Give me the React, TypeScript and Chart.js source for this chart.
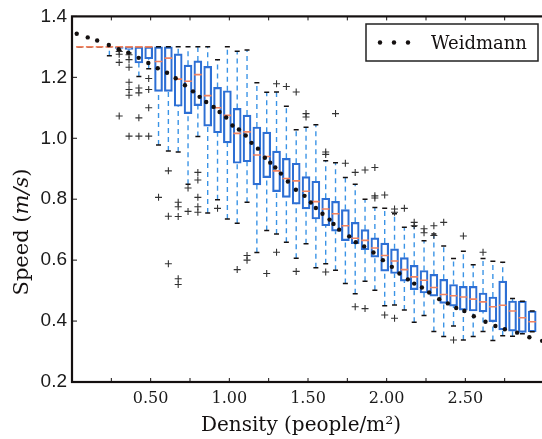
import React, { useEffect, useRef } from "react";
import { Chart, registerables } from "chart.js";
Chart.register(...registerables);

// ---- data ----
const boxDensity = [0.05, 0.1125, 0.175, 0.2375, 0.3, 0.3625, 0.425, 0.4875, 0.55, 0.6125, 0.675, 0.7375, 0.8, 0.8625, 0.925, 0.9875, 1.05, 1.1125, 1.175, 1.2375, 1.3, 1.3625, 1.425, 1.4875, 1.55, 1.6125, 1.675, 1.7375, 1.8, 1.8625, 1.925, 1.9875, 2.05, 2.1125, 2.175, 2.2375, 2.3, 2.3625, 2.425, 2.4875, 2.55, 2.6125, 2.675, 2.7375, 2.8, 2.8625, 2.925];
const whiskerLow = [1.3, 1.3, 1.3, 1.271, 1.288, 1.28, 1.203, 1.228, 0.978, 0.958, 0.955, 0.849, 1.006, 0.755, 0.798, 0.735, 0.721, 0.79, 0.625, 0.697, 0.686, 0.659, 0.606, 0.654, 0.575, 0.588, 0.567, 0.523, 0.49, 0.531, 0.501, 0.45, 0.453, 0.436, 0.396, 0.418, 0.366, 0.349, 0.384, 0.338, 0.349, 0.366, 0.336, 0.352, 0.35, 0.358, 0.365];
const quartile1 = [1.3, 1.3, 1.3, 1.3, 1.295, 1.292, 1.247, 1.261, 1.154, 1.154, 1.105, 1.081, 1.107, 1.04, 1.018, 0.985, 0.918, 0.923, 0.847, 0.871, 0.825, 0.806, 0.784, 0.768, 0.735, 0.713, 0.695, 0.664, 0.654, 0.634, 0.61, 0.564, 0.556, 0.531, 0.503, 0.492, 0.482, 0.458, 0.449, 0.436, 0.433, 0.43, 0.398, 0.371, 0.367, 0.363, 0.365];
const medianSpeed = [1.3, 1.3, 1.3, 1.3, 1.3, 1.3, 1.3, 1.3, 1.252, 1.263, 1.194, 1.187, 1.209, 1.14, 1.1, 1.075, 1.016, 1.021, 0.945, 0.94, 0.893, 0.868, 0.86, 0.826, 0.792, 0.768, 0.752, 0.713, 0.672, 0.665, 0.64, 0.615, 0.597, 0.569, 0.545, 0.534, 0.51, 0.487, 0.483, 0.479, 0.472, 0.463, 0.447, 0.452, 0.433, 0.411, 0.398];
const quartile3 = [1.3, 1.3, 1.3, 1.3, 1.3, 1.3, 1.3, 1.3, 1.3, 1.3, 1.277, 1.24, 1.254, 1.236, 1.167, 1.156, 1.098, 1.076, 1.037, 1.02, 0.958, 0.934, 0.918, 0.874, 0.859, 0.803, 0.793, 0.766, 0.724, 0.7, 0.673, 0.656, 0.637, 0.608, 0.583, 0.566, 0.553, 0.537, 0.52, 0.514, 0.514, 0.492, 0.479, 0.531, 0.466, 0.465, 0.433];
const whiskerHigh = [1.3, 1.3, 1.3, 1.3, 1.3, 1.3, 1.3, 1.3, 1.3, 1.3, 1.3, 1.3, 1.3, 1.3, 1.258, 1.3, 1.286, 1.29, 1.182, 1.151, 1.152, 1.105, 1.028, 1.036, 1.044, 0.926, 0.92, 0.871, 0.849, 0.8, 0.773, 0.77, 0.752, 0.708, 0.711, 0.664, 0.686, 0.646, 0.605, 0.629, 0.585, 0.605, 0.596, 0.593, 0.474, 0.465, 0.433];

const outlierBox = [4, 4, 4, 4, 5, 5, 5, 5, 5, 5, 5, 6, 6, 6, 6, 7, 7, 7, 7, 8, 9, 9, 9, 10, 10, 10, 10, 10, 11, 11, 12, 12, 12, 12, 12, 14, 16, 17, 17, 19, 20, 20, 21, 22, 22, 23, 23, 25, 25, 25, 26, 27, 28, 28, 29, 29, 30, 30, 30, 31, 31, 32, 32, 32, 33, 34, 34, 35, 35, 36, 36, 37, 38, 39, 41];
const outlierSpeed = [1.285, 1.276, 1.249, 1.073, 1.274, 1.258, 1.233, 1.184, 1.16, 1.141, 1.007, 1.165, 1.149, 1.067, 1.007, 1.196, 1.16, 1.1, 1.007, 0.806, 0.893, 0.744, 0.588, 0.79, 0.775, 0.743, 0.539, 0.52, 0.837, 0.76, 0.888, 0.863, 0.806, 0.775, 0.757, 0.77, 0.569, 0.615, 0.6, 0.556, 1.179, 0.626, 1.17, 1.152, 0.563, 1.081, 1.07, 0.955, 0.947, 0.561, 1.081, 0.918, 0.888, 0.447, 0.896, 0.441, 0.904, 0.811, 0.804, 0.814, 0.42, 0.768, 0.757, 0.409, 0.77, 0.724, 0.713, 0.703, 0.69, 0.713, 0.681, 0.724, 0.338, 0.679, 0.626];

const weidmannDensity = [0.03, 0.1, 0.16, 0.234, 0.297, 0.358, 0.424, 0.485, 0.545, 0.604, 0.659, 0.718, 0.769, 0.811, 0.853, 0.9, 0.938, 0.98, 1.02, 1.061, 1.104, 1.141, 1.182, 1.226, 1.26, 1.292, 1.328, 1.372, 1.423, 1.478, 1.518, 1.55, 1.592, 1.637, 1.662, 1.698, 1.762, 1.804, 1.857, 1.916, 1.976, 2.033, 2.081, 2.135, 2.175, 2.224, 2.27, 2.334, 2.389, 2.442, 2.494, 2.554, 2.628, 2.691, 2.751, 2.829, 2.907, 2.988];
const weidmannSpeed = [1.343, 1.331, 1.321, 1.306, 1.292, 1.281, 1.264, 1.247, 1.23, 1.215, 1.197, 1.174, 1.154, 1.136, 1.119, 1.103, 1.086, 1.068, 1.042, 1.029, 1.009, 0.985, 0.966, 0.936, 0.92, 0.904, 0.884, 0.858, 0.831, 0.811, 0.789, 0.771, 0.752, 0.733, 0.719, 0.7, 0.678, 0.659, 0.645, 0.625, 0.6, 0.578, 0.556, 0.537, 0.523, 0.51, 0.494, 0.472, 0.458, 0.443, 0.433, 0.416, 0.398, 0.384, 0.373, 0.362, 0.347, 0.335];

const xTickValues = [0.5, 1.0, 1.5, 2.0, 2.5];
const xMinorTicks = [0.25, 0.5, 0.75, 1.0, 1.25, 1.5, 1.75, 2.0, 2.25, 2.5, 2.75];
const yTickValues = [0.2, 0.4, 0.6, 0.8, 1.0, 1.2, 1.4];
const legendLabel = "Weidmann";
const xTitle = "Density (people/m\u00b2)";

const BOX_BLUE = "#2d6fd4";
const WHISKER_BLUE = "#3b94e6";
const MEDIAN_ORANGE = "#f2825f";
const INK = "#141010";

const framePlugin = {
  id: "frameAndText",
  afterDraw(chart: any) {
    const { ctx, chartArea: a, scales } = chart;
    const x = scales.x;
    const y = scales.y;
    ctx.save();
    // frame
    ctx.strokeStyle = INK;
    ctx.lineWidth = 2.2;
    ctx.strokeRect(a.left, a.top, a.right - a.left, a.bottom - a.top);
    // inward ticks
    ctx.lineWidth = 1;
    ctx.beginPath();
    xMinorTicks.forEach((v) => {
      const px = x.getPixelForValue(v);
      ctx.moveTo(px, a.bottom);
      ctx.lineTo(px, a.bottom - 4);
      ctx.moveTo(px, a.top);
      ctx.lineTo(px, a.top + 4);
    });
    yTickValues.forEach((v) => {
      const py = y.getPixelForValue(v);
      ctx.moveTo(a.left, py);
      ctx.lineTo(a.left + 5, py);
    });
    ctx.stroke();

    // x title
    ctx.fillStyle = INK;
    ctx.font = "20px 'DejaVu Serif'";
    ctx.textAlign = "center";
    ctx.textBaseline = "alphabetic";
    ctx.fillText(xTitle, 301, 431);

    // y title with italic m/s
    const parts = [
      { t: "Speed (", f: "21px 'DejaVu Serif'" },
      { t: "m/s", f: "italic 21px 'DejaVu Serif'" },
      { t: ")", f: "21px 'DejaVu Serif'" },
    ];
    let total = 0;
    const widths = parts.map((p) => {
      ctx.font = p.f;
      const w = ctx.measureText(p.t).width;
      total += w;
      return w;
    });
    ctx.translate(28, 232);
    ctx.rotate(-Math.PI / 2);
    ctx.textAlign = "left";
    let cx = -total / 2;
    parts.forEach((p, i) => {
      ctx.font = p.f;
      ctx.fillText(p.t, cx, 0);
      cx += widths[i];
    });
    ctx.restore();

    // legend
    ctx.save();
    ctx.fillStyle = "#ffffff";
    ctx.fillRect(366, 24, 172, 37);
    ctx.strokeStyle = "#222";
    ctx.lineWidth = 1.5;
    ctx.strokeRect(366, 24, 172, 37);
    ctx.fillStyle = INK;
    [380, 394, 408].forEach((dx) => {
      ctx.beginPath();
      ctx.arc(dx, 42.5, 2.2, 0, Math.PI * 2);
      ctx.fill();
    });
    ctx.font = "18px 'DejaVu Serif'";
    ctx.textAlign = "left";
    ctx.textBaseline = "alphabetic";
    ctx.fillText(legendLabel, 431, 49);
    ctx.restore();
  },
};

export default function App() {
  const ref = useRef<HTMLCanvasElement | null>(null);
  useEffect(() => {
    if (!ref.current) return;
    const whiskers: any[] = [];
    const caps: any[] = [];
    boxDensity.forEach((d, i) => {
      whiskers.push({ x: d, y: whiskerLow[i] }, { x: d, y: quartile1[i] }, { x: d, y: null });
      whiskers.push({ x: d, y: quartile3[i] }, { x: d, y: whiskerHigh[i] }, { x: d, y: null });
      caps.push({ x: d, y: whiskerLow[i] }, { x: d, y: whiskerHigh[i] });
    });
    const chart = new Chart(ref.current, {
      type: "bar",
      data: {
        datasets: [
          {
            type: "line",
            label: "whiskers",
            data: whiskers,
            borderColor: WHISKER_BLUE,
            borderWidth: 1.4,
            borderDash: [5, 4],
            pointRadius: 0,
            spanGaps: false,
            tension: 0,
            fill: false,
            order: 6,
          } as any,
          {
            type: "bar",
            label: "boxes",
            data: boxDensity.map((d, i) => ({ x: d, y: [quartile1[i], quartile3[i]] })),
            backgroundColor: "rgba(255,255,255,0)",
            borderColor: BOX_BLUE,
            borderWidth: 1.5,
            borderSkipped: false,
            barThickness: 8,
            order: 5,
          } as any,
          {
            type: "scatter",
            label: "caps",
            data: caps,
            pointStyle: "line",
            radius: 2.5,
            borderColor: INK,
            borderWidth: 1.5,
            order: 4,
          } as any,
          {
            type: "scatter",
            label: "outliers",
            data: outlierBox.map((b, i) => ({ x: boxDensity[b], y: outlierSpeed[i] })),
            pointStyle: "cross",
            radius: 3.5,
            borderColor: "#333",
            borderWidth: 1.1,
            order: 3,
          } as any,
          {
            type: "scatter",
            label: "medians",
            data: boxDensity.map((d, i) => ({ x: d, y: medianSpeed[i] })),
            pointStyle: "line",
            radius: 3.8,
            borderColor: MEDIAN_ORANGE,
            borderWidth: 1.6,
            order: 2,
          } as any,
          {
            type: "scatter",
            label: legendLabel,
            data: weidmannDensity.map((d, i) => ({ x: d, y: weidmannSpeed[i] })),
            pointStyle: "circle",
            radius: 2.2,
            backgroundColor: INK,
            borderColor: INK,
            borderWidth: 0,
            order: 1,
          } as any,
        ],
      },
      options: {
        responsive: false,
        devicePixelRatio: 1,
        animation: false,
        layout: { padding: { left: 0, top: 15, right: 8, bottom: 0 } },
        plugins: { legend: { display: false }, tooltip: { enabled: false } },
        scales: {
          x: {
            type: "linear",
            min: 0,
            max: 3,
            offset: false,
            grid: { display: false, drawTicks: false },
            border: { display: false },
            afterBuildTicks: (s: any) => {
              s.ticks = xTickValues.map((v) => ({ value: v }));
            },
            afterFit: (s: any) => {
              s.height = 57;
            },
            ticks: {
              autoSkip: false,
              maxRotation: 0,
              padding: 7,
              color: "#1a1a1a",
              font: { family: "'DejaVu Serif'", size: 16 },
              callback: (v: any) => Number(v).toFixed(2),
            },
          },
          y: {
            type: "linear",
            min: 0.2,
            max: 1.4,
            grid: { display: false, drawTicks: false },
            border: { display: false },
            afterBuildTicks: (s: any) => {
              s.ticks = yTickValues.map((v) => ({ value: v }));
            },
            afterFit: (s: any) => {
              s.width = 72;
            },
            ticks: {
              padding: 5,
              color: "#1a1a1a",
              font: { family: "'Liberation Sans'", size: 19 },
              callback: (v: any) => Number(v).toFixed(1),
            },
          },
        },
      } as any,
      plugins: [framePlugin],
    });
    return () => chart.destroy();
  }, []);
  return (
    <div style={{ position: "fixed", left: 0, top: 0, width: 542, height: 439, overflow: "hidden", background: "#fff" }}>
      <canvas ref={ref} width={552} height={439} style={{ display: "block" }} />
    </div>
  );
}
